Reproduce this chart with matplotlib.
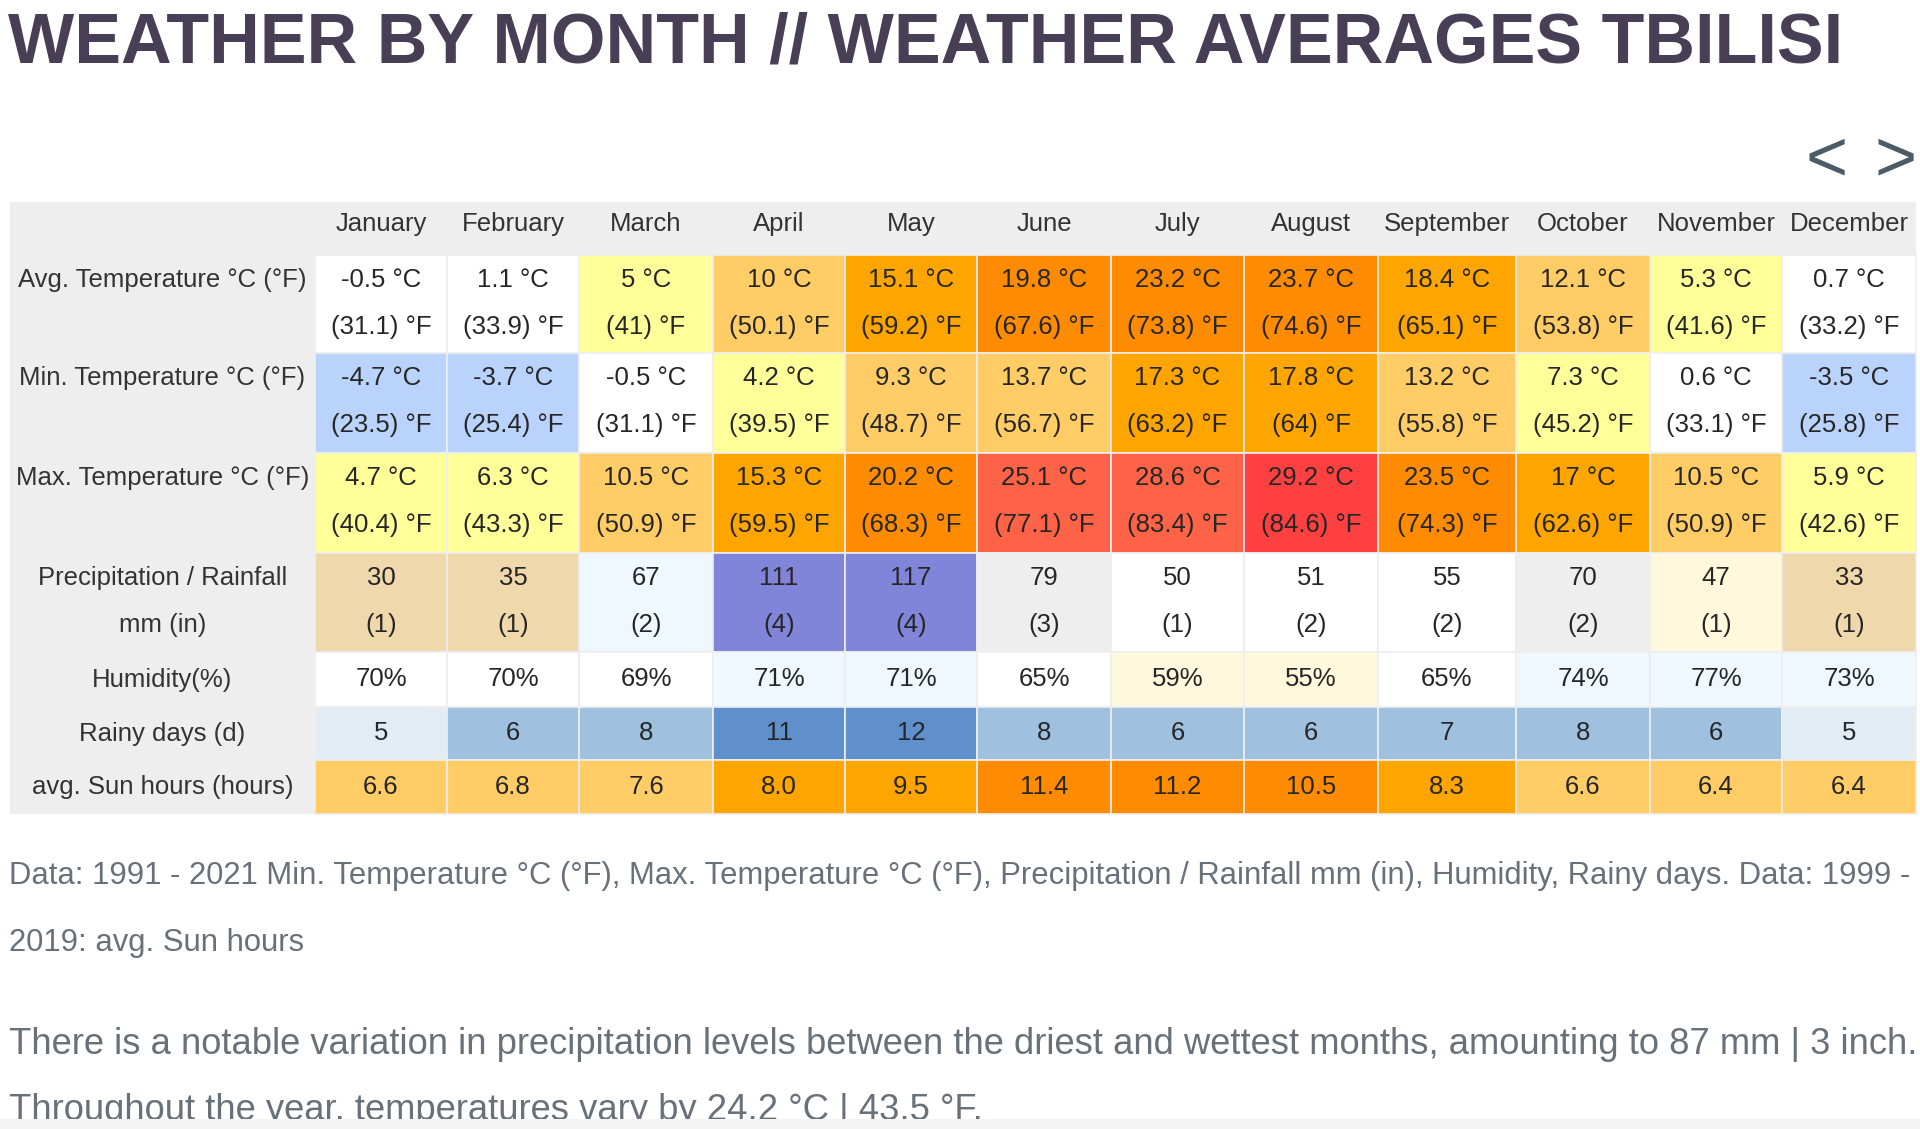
import matplotlib.pyplot as plt
from matplotlib.patches import Rectangle

plt.rcParams['font.family'] = ['Liberation Sans', 'DejaVu Sans']

# table data
months = ['January', 'February', 'March', 'April', 'May', 'June', 'July',
          'August', 'September', 'October', 'November', 'December']
avg_c = [-0.5, 1.1, 5, 10, 15.1, 19.8, 23.2, 23.7, 18.4, 12.1, 5.3, 0.7]
avg_f = [31.1, 33.9, 41, 50.1, 59.2, 67.6, 73.8, 74.6, 65.1, 53.8, 41.6, 33.2]
min_c = [-4.7, -3.7, -0.5, 4.2, 9.3, 13.7, 17.3, 17.8, 13.2, 7.3, 0.6, -3.5]
min_f = [23.5, 25.4, 31.1, 39.5, 48.7, 56.7, 63.2, 64, 55.8, 45.2, 33.1, 25.8]
max_c = [4.7, 6.3, 10.5, 15.3, 20.2, 25.1, 28.6, 29.2, 23.5, 17, 10.5, 5.9]
max_f = [40.4, 43.3, 50.9, 59.5, 68.3, 77.1, 83.4, 84.6, 74.3, 62.6, 50.9, 42.6]
precip_mm = [30, 35, 67, 111, 117, 79, 50, 51, 55, 70, 47, 33]
precip_in = [1, 1, 2, 4, 4, 3, 1, 2, 2, 2, 1, 1]
humidity = [70, 70, 69, 71, 71, 65, 59, 55, 65, 74, 77, 73]
rainy_days = [5, 6, 8, 11, 12, 8, 6, 6, 7, 8, 6, 5]
sun_hours = [6.6, 6.8, 7.6, 8.0, 9.5, 11.4, 11.2, 10.5, 8.3, 6.6, 6.4, 6.4]

title = 'WEATHER BY MONTH // WEATHER AVERAGES TBILISI'
note = ('Data: 1991 - 2021 Min. Temperature °C (°F), Max. Temperature °C (°F), '
        'Precipitation / Rainfall mm (in), Humidity, Rainy days. Data: 1999 -')
note2 = '2019: avg. Sun hours'
text1 = ('There is a notable variation in precipitation levels between the driest '
         'and wettest months, amounting to 87 mm | 3 inch.')
text2 = 'Throughout the year, temperatures vary by 24.2 °C | 43.5 °F.'


def temp_color(v):
    if v < -3:
        return '#bad3fc'
    if v < 3:
        return '#ffffff'
    if v < 8:
        return '#ffff99'
    if v < 15:
        return '#ffcc66'
    if v < 19:
        return '#ffa500'
    if v < 25:
        return '#ff8c00'
    if v < 29:
        return '#ff6347'
    return '#ff4040'


def precip_color(v):
    if v < 40:
        return '#efd8ac'
    if v < 50:
        return '#fff8dc'
    if v < 60:
        return '#ffffff'
    if v < 70:
        return '#f0f8ff'
    if v < 100:
        return '#eeeeee'
    return '#8185d9'


def hum_color(v):
    if v < 60:
        return '#fff8dc'
    if v < 71:
        return '#ffffff'
    return '#f0f8ff'


def rain_color(v):
    if v < 6:
        return '#e2ecf5'
    if v < 10:
        return '#a0c0e0'
    return '#6090cc'


def sun_color(v):
    if v < 8:
        return '#ffcc66'
    if v < 10:
        return '#ffa500'
    return '#ff8c00'


# layout in pixels (top-left origin)
col_x = [315, 447, 579, 713, 845, 977, 1111, 1244, 1378, 1516, 1650, 1782, 1916]
label_x0 = 10
rows = [
    ('Avg. Temperature °C (°F)', None, 255, 353,
     [f'{v:g} °C' for v in avg_c], [f'({v:g}) °F' for v in avg_f],
     [temp_color(v) for v in avg_c]),
    ('Min. Temperature °C (°F)', None, 353, 453,
     [f'{v:g} °C' for v in min_c], [f'({v:g}) °F' for v in min_f],
     [temp_color(v) for v in min_c]),
    ('Max. Temperature °C (°F)', None, 453, 553,
     [f'{v:g} °C' for v in max_c], [f'({v:g}) °F' for v in max_f],
     [temp_color(v) for v in max_c]),
    ('Precipitation / Rainfall', 'mm (in)', 553, 652,
     [str(v) for v in precip_mm], [f'({v})' for v in precip_in],
     [precip_color(v) for v in precip_mm]),
    ('Humidity(%)', None, 652, 707,
     [f'{v}%' for v in humidity], None, [hum_color(v) for v in humidity]),
    ('Rainy days (d)', None, 707, 760,
     [str(v) for v in rainy_days], None, [rain_color(v) for v in rainy_days]),
    ('avg. Sun hours (hours)', None, 760, 814,
     [f'{v:.1f}' for v in sun_hours], None, [sun_color(v) for v in sun_hours]),
]

fig = plt.figure(figsize=(19.2, 11.29), dpi=100)
ax = fig.add_axes([0, 0, 1, 1])
ax.set_xlim(0, 1920)
ax.set_ylim(1129, 0)
ax.axis('off')

fs = 18.5
txt_col = '#262626'

ax.text(8, 45, title, fontsize=50.5, fontweight='bold', color='#483f56',
        ha='left', va='center')
ax.text(1827, 162, '<', fontsize=52, color='#4d5b66', ha='center', va='center')
ax.text(1896, 162, '>', fontsize=52, color='#4d5b66', ha='center', va='center')

# grey header and label column
ax.add_patch(Rectangle((label_x0, 202), col_x[-1] - label_x0, 53, color='#eeeeee', lw=0))
ax.add_patch(Rectangle((label_x0, 202), col_x[0] - label_x0, 814 - 202, color='#eeeeee', lw=0))

for i, m in enumerate(months):
    ax.text((col_x[i] + col_x[i + 1]) / 2, 224, m, fontsize=fs, color='#333333',
            ha='center', va='center')

lab_cx = (label_x0 + col_x[0]) / 2
for label, label2, y0, y1, top, bottom, colors in rows:
    two = bottom is not None
    if two:
        ly1, ly2 = y0 + 25, y0 + 72
    else:
        ly1 = (y0 + y1) / 2
    ax.text(lab_cx, ly1, label, fontsize=fs, color='#333333', ha='center', va='center')
    if label2 is not None:
        ax.text(lab_cx, ly2, label2, fontsize=fs, color='#333333', ha='center', va='center')
    for i in range(12):
        x0, x1 = col_x[i], col_x[i + 1]
        ax.add_patch(Rectangle((x0, y0), x1 - x0, y1 - y0, facecolor=colors[i],
                               edgecolor='#eeeeee', lw=1.2))
        cx = (x0 + x1) / 2
        ax.text(cx, ly1, top[i], fontsize=fs, color=txt_col, ha='center', va='center')
        if two:
            ax.text(cx, ly2, bottom[i], fontsize=fs, color=txt_col, ha='center', va='center')

foot_col = '#68717a'
ax.text(9, 876, note, fontsize=22.3, color=foot_col, ha='left', va='center')
ax.text(9, 943, note2, fontsize=22.3, color=foot_col, ha='left', va='center')
ax.text(9, 1045, text1, fontsize=26.2, color=foot_col, ha='left', va='center')
ax.text(9, 1111, text2, fontsize=26.2, color=foot_col, ha='left', va='center')
ax.add_patch(Rectangle((0, 1119), 1920, 10, color='#f4f4f4', lw=0, zorder=5))

fig.savefig('out.png', dpi=100)
